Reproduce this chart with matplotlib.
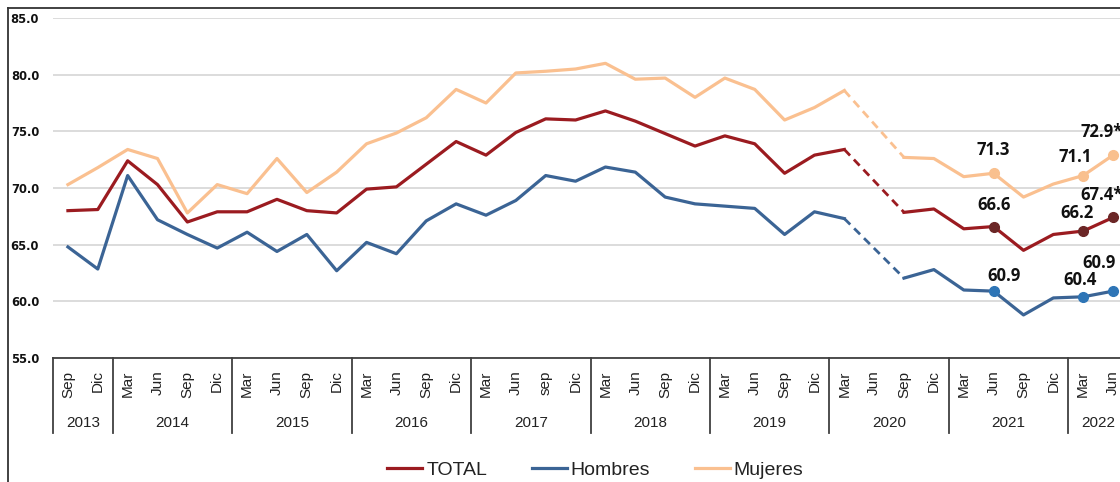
import numpy as np
import matplotlib
matplotlib.use("Agg")
import matplotlib.pyplot as plt
from matplotlib.lines import Line2D
import matplotlib.transforms as mtransforms

nan = np.nan
months = ["Sep", "Dic",
          "Mar", "Jun", "Sep", "Dic",
          "Mar", "Jun", "Sep", "Dic",
          "Mar", "Jun", "Sep", "Dic",
          "Mar", "Jun", "sep", "Dic",
          "Mar", "Jun", "Sep", "Dic",
          "Mar", "Jun", "Sep", "Dic",
          "Mar", "Jun", "Sep", "Dic",
          "Mar", "Jun", "Sep", "Dic",
          "Mar", "Jun"]
years = ["2013", "2014", "2015", "2016", "2017", "2018", "2019", "2020", "2021", "2022"]
year_counts = [2, 4, 4, 4, 4, 4, 4, 4, 4, 2]

total = [68.0, 68.1, 72.4, 70.3, 67.0, 67.9, 67.9, 69.0, 68.0, 67.8, 69.9, 70.1,
         72.1, 74.1, 72.9, 74.9, 76.1, 76.0, 76.8, 75.9, 74.8, 73.7, 74.6, 73.9,
         71.3, 72.9, 73.4, nan, 67.85, 68.15, 66.4, 66.6, 64.5, 65.9, 66.2, 67.4]
hombres = [64.8, 62.85, 71.1, 67.2, 65.9, 64.7, 66.1, 64.4, 65.9, 62.7, 65.2, 64.2,
           67.1, 68.6, 67.6, 68.9, 71.1, 70.6, 71.85, 71.4, 69.2, 68.6, 68.4, 68.2,
           65.9, 67.9, 67.3, nan, 62.05, 62.8, 61.0, 60.9, 58.8, 60.3, 60.4, 60.9]
mujeres = [70.3, 71.8, 73.4, 72.6, 67.8, 70.3, 69.5, 72.6, 69.6, 71.4, 73.9, 74.85,
           76.2, 78.7, 77.5, 80.15, 80.3, 80.5, 81.0, 79.6, 79.7, 78.0, 79.7, 78.7,
           76.0, 77.1, 78.6, nan, 72.7, 72.6, 71.0, 71.3, 69.2, 70.35, 71.1, 72.9]

label_idx = [31, 34, 35]
total_labels = ["66.6", "66.2", "67.4*"]
hombres_labels = ["60.9", "60.4", "60.9"]
mujeres_labels = ["71.3", "71.1", "72.9*"]

W, H = 1120, 482
fig = plt.figure(figsize=(W / 100, H / 100), dpi=100)
fig.patch.set_facecolor("white")
L, R, T, B = 53, 1128, 18, 358
ax = fig.add_axes([L / W, 1 - B / H, (R - L) / W, (B - T) / H])

x = np.arange(len(months))
series = [
    ("TOTAL", total, "#9B1B20", "#6B2626", total_labels),
    ("Hombres", hombres, "#3B6495", "#2E75B6", hombres_labels),
    ("Mujeres", mujeres, "#FAC090", "#F9C08E", mujeres_labels),
]
gap_a, gap_b = 26, 28
handles = []
for name, vals, col, mcol, labs in series:
    v = np.array(vals, dtype=float)
    ln, = ax.plot(x, v, color=col, lw=2.3, solid_joinstyle="round", zorder=3, label=name)
    handles.append(ln)
    ax.plot([x[gap_a], x[gap_b]], [v[gap_a], v[gap_b]], color=col, lw=2.0,
            linestyle=(0, (3, 2)), zorder=3)
    ax.plot(x[label_idx], v[label_idx], "o", color=mcol, ms=7, zorder=4, linestyle="none")

lab_font = dict(family="Open Sans", weight="bold", fontsize=12, color="#111111")
px = 0.72
offsets = {
    "TOTAL": [((0, 22), "center"), ((-6, 18), "center"), ((-33, 22), "left")],
    "Hombres": [((10, 15), "center"), ((-3, 17), "center"), ((-31, 28), "left")],
    "Mujeres": [((0, 23), "center"), ((-8, 18.5), "center"), ((-33, 23), "left")],
}
for name, vals, col, mcol, labs in series:
    for k, i in enumerate(label_idx):
        (dx, dy), ha = offsets[name][k]
        ax.annotate(labs[k], (x[i], vals[i]), xytext=(dx * px, dy * px),
                    textcoords="offset points", ha=ha, va="center",
                    annotation_clip=False, zorder=5, **lab_font)

ax.set_xlim(-0.5, len(months) - 0.5)
ax.set_ylim(55, 85)
ax.set_yticks(np.arange(55, 86, 5))
ax.set_yticklabels([f"{t:.1f}" for t in np.arange(55, 86, 5)],
                   fontsize=8.3, fontweight="bold", family="DejaVu Sans", color="#111111")
ax.tick_params(axis="y", length=0, pad=10)
ax.grid(axis="y", color="#D9D9D9", lw=1.3, zorder=0)
for s in ["top", "right", "left"]:
    ax.spines[s].set_visible(False)
ax.spines["bottom"].set_color("#404040")
ax.spines["bottom"].set_linewidth(1.3)
ax.spines["bottom"].set_zorder(6)

ax.set_xticks(x)
ax.set_xticklabels(months, rotation=90, fontsize=11, family="Liberation Sans", color="#222222",
                   ha="center", va="top")
ax.tick_params(axis="x", length=0, pad=9)

trans = mtransforms.blended_transform_factory(ax.transData, ax.transAxes)
edges = np.concatenate([[0], np.cumsum(year_counts)]) - 0.5
for e in edges:
    ax.plot([e, e], [0, -75 / 340], color="#404040", lw=1.3, transform=trans, clip_on=False)
for k, yname in enumerate(years):
    ax.text((edges[k] + edges[k + 1]) / 2, -65 / 340, yname, transform=trans,
            ha="center", va="center", fontsize=11, family="Liberation Sans", color="#222222")

fig.legend(handles=handles, loc="center", bbox_to_anchor=(595.5 / W, 1 - 470 / H), ncol=3,
           frameon=False, prop={"family": "Liberation Sans", "size": 14},
           handlelength=1.8, handletextpad=0.2, columnspacing=2.3)
for text in fig.legends[0].get_texts():
    text.set_color("#222222")

fig.add_artist(Line2D([8 / W, 8 / W], [0, 1 - 8 / H], color="#333333", lw=1.3))
fig.add_artist(Line2D([8 / W, 1], [1 - 8 / H, 1 - 8 / H], color="#333333", lw=1.3))

fig.savefig("out.png", dpi=100)
